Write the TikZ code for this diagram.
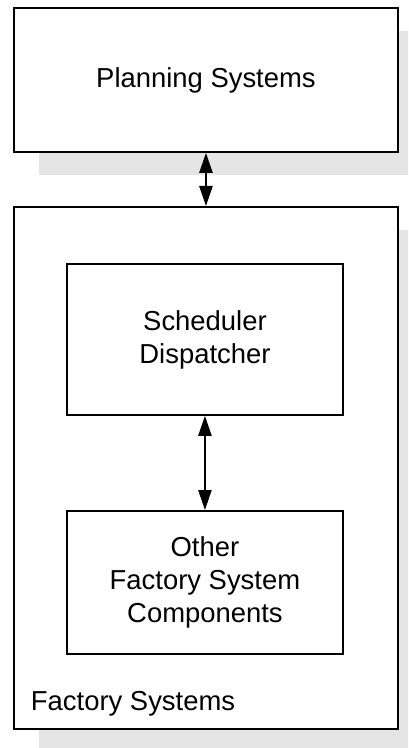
\documentclass[tikz,border=0pt]{standalone}
\usepackage{fontspec}
\setmainfont{Liberation Sans}
\usetikzlibrary{arrows.meta, shadows}

\definecolor{shadegray}{RGB}{229,229,229}

\begin{document}
\begin{tikzpicture}[x=0.025cm, y=-0.025cm,
    box/.style={draw, line width=1.3pt, fill=white, anchor=north west, align=center,
        font=\fontsize{19.5}{23.5}\selectfont},
    shadowed/.style={drop shadow={shadow xshift=0.625cm, shadow yshift=-0.575cm,
        fill=shadegray, opacity=1}},
    link/.style={line width=1.3pt, {Triangle[length=0.5cm, width=0.33cm]}-{Triangle[length=0.5cm, width=0.33cm]}}]
    \useasboundingbox (0,0) rectangle (408,748);
    \clip (0,0) rectangle (408,748);
    % Planning systems on top
    \node[box, shadowed, minimum width=9.6cm, minimum height=3.6cm] (plan) at (13,7) {Planning Systems};
    % Factory systems with its two parts
    \node[box, shadowed, minimum width=9.6cm, minimum height=13.05cm] (fact) at (13,206) {};
    \node[box, minimum width=6.9cm, minimum height=3.775cm] (sched) at (66,263) {Scheduler\\Dispatcher};
    \node[box, minimum width=6.9cm, minimum height=3.575cm] (other) at (66,510) {Other\\Factory System\\Components};
    \node[anchor=base west, font=\fontsize{19.5}{23.5}\selectfont] (factlabel) at (26,710) {Factory Systems};
    % Links
    \draw[link] (plan.south) -- (fact.north);
    \draw[link] (sched.south) -- (other.north);
\end{tikzpicture}
\end{document}
